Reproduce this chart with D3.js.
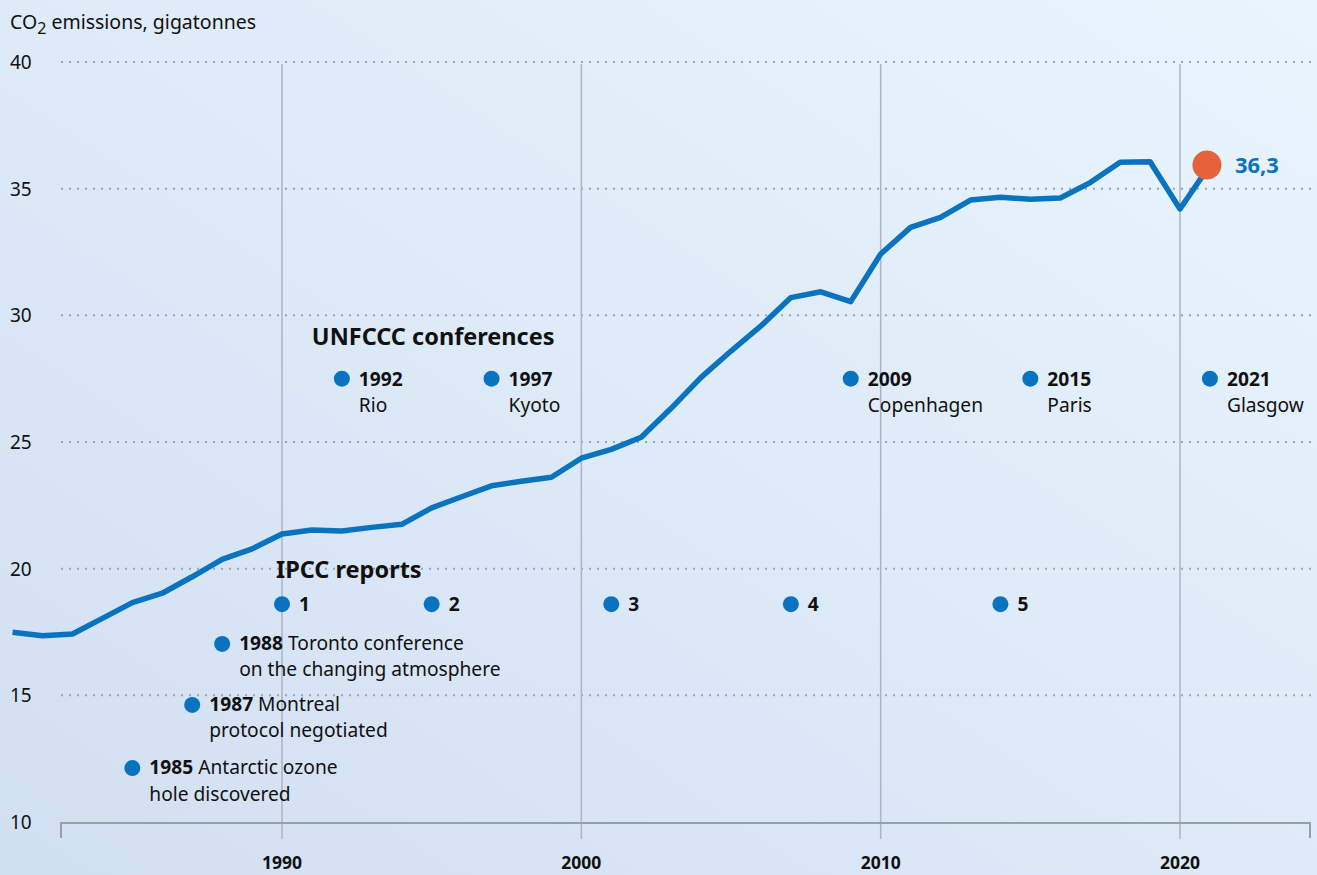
<!DOCTYPE html>
<html>
<head>
  <meta charset="utf-8">
  <title>CO2 emissions</title>
  <script src="https://cdn.jsdelivr.net/npm/d3@7/dist/d3.min.js"></script>
  <style>
    body { margin: 0; }
    svg { display: block; font-family: "Noto Sans", sans-serif; }
    .grid line { stroke: #97a6b4; stroke-width: 2; stroke-dasharray: 2 6; }
    .vgrid line { stroke: #a9b5c2; stroke-width: 1.5; }
    .tick-label { font-size: 19px; fill: #111; }
    .unit { font-size: 19.5px; fill: #111; }
    .year-label { font-size: 17.5px; font-weight: bold; fill: #111; }
    .ev { font-size: 19.2px; fill: #111; }
    .ev-title { font-size: 23.5px; font-weight: bold; fill: #111; }
  </style>
</head>
<body>
<div id="chart"></div>
<script>
  // emissions per year, gigatonnes
  const years = [1981, 1982, 1983, 1984, 1985, 1986, 1987, 1988, 1989, 1990,
    1991, 1992, 1993, 1994, 1995, 1996, 1997, 1998, 1999, 2000,
    2001, 2002, 2003, 2004, 2005, 2006, 2007, 2008, 2009, 2010,
    2011, 2012, 2013, 2014, 2015, 2016, 2017, 2018, 2019, 2020, 2021];
  const emissions = [17.49, 17.35, 17.42, 18.04, 18.66, 19.03, 19.68, 20.37, 20.78, 21.37,
    21.53, 21.49, 21.63, 21.75, 22.40, 22.84, 23.27, 23.45, 23.61, 24.36,
    24.71, 25.19, 26.33, 27.55, 28.59, 29.58, 30.70, 30.93, 30.54, 32.42,
    33.47, 33.87, 34.55, 34.66, 34.58, 34.63, 35.24, 36.04, 36.06, 34.20, 35.93];
  const lastLabel = '36,3';

  const yTicks = [10, 15, 20, 25, 30, 35, 40];
  const xTicks = [1990, 2000, 2010, 2020];

  // UNFCCC conferences
  const confYears = [1992, 1997, 2009, 2015, 2021];
  const confNames = ['Rio', 'Kyoto', 'Copenhagen', 'Paris', 'Glasgow'];
  const confLevel = 27.5;

  // IPCC reports
  const ipccYears = [1990, 1995, 2001, 2007, 2014];
  const ipccNums = ['1', '2', '3', '4', '5'];
  const ipccLevel = 18.6;

  // other milestones
  const otherYears = [1988, 1987, 1985];
  const otherLevels = [17.03, 14.62, 12.13];
  const otherLine1 = ['Toronto conference', 'Montreal', 'Antarctic ozone'];
  const otherLine2 = ['on the changing atmosphere', 'protocol negotiated', 'hole discovered'];

  const width = 1317, height = 875;
  const blue = '#0a73bf';
  const lineGap = 26.5;

  const svg = d3.select('#chart').append('svg')
    .attr('width', width)
    .attr('height', height);

  // background gradient
  const grad = svg.append('defs').append('linearGradient')
    .attr('id', 'bg')
    .attr('x1', '0%').attr('y1', '100%')
    .attr('x2', '100%').attr('y2', '0%');
  grad.append('stop').attr('offset', '0%').attr('stop-color', '#d1dff2');
  grad.append('stop').attr('offset', '100%').attr('stop-color', '#e9f5fd');
  svg.append('rect').attr('width', width).attr('height', height).attr('fill', 'url(#bg)');

  const x = d3.scaleLinear().domain([1990, 2020]).range([282, 1180]);
  const y = d3.scaleLinear().domain([10, 40]).range([822, 62]);

  // y unit label
  const unit = svg.append('text').attr('x', 10).attr('y', 29).attr('class', 'unit');
  unit.append('tspan').text('CO');
  unit.append('tspan').attr('dy', 5).attr('font-size', 16).text('2');
  unit.append('tspan').attr('dy', -5).text(' emissions, gigatonnes');

  // horizontal dotted grid
  svg.append('g').attr('class', 'grid')
    .selectAll('line')
    .data(yTicks.filter(d => d > 10))
    .join('line')
    .attr('x1', 61).attr('x2', 1312)
    .attr('y1', d => y(d)).attr('y2', d => y(d));

  svg.append('g')
    .selectAll('text')
    .data(yTicks)
    .join('text')
    .attr('class', 'tick-label')
    .attr('x', 10)
    .attr('y', d => y(d) + 7)
    .text(d => d);

  // vertical grid lines
  svg.append('g').attr('class', 'vgrid')
    .selectAll('line')
    .data(xTicks)
    .join('line')
    .attr('x1', d => x(d)).attr('x2', d => x(d))
    .attr('y1', y(40) + 2).attr('y2', y(10) + 17);

  // x axis
  const xAxis = svg.append('g').attr('transform', `translate(0,${y(10) + 1})`);
  xAxis.append('path')
    .attr('d', 'M61,15V0H1310V15')
    .attr('fill', 'none')
    .attr('stroke', '#9a9fa6')
    .attr('stroke-width', 2);

  svg.append('g')
    .selectAll('text')
    .data(xTicks)
    .join('text')
    .attr('class', 'year-label')
    .attr('text-anchor', 'middle')
    .attr('x', d => x(d))
    .attr('y', y(10) + 47)
    .text(d => d);

  // event titles
  svg.append('text').attr('class', 'ev-title')
    .attr('x', x(confYears[0]) - 30).attr('y', y(confLevel) - 34)
    .text('UNFCCC conferences');
  svg.append('text').attr('class', 'ev-title')
    .attr('x', x(ipccYears[0]) - 6).attr('y', y(ipccLevel) - 26)
    .text('IPCC reports');

  // UNFCCC markers
  const conf = svg.append('g').selectAll('g')
    .data(confYears)
    .join('g')
    .attr('transform', d => `translate(${x(d)},${y(confLevel)})`);
  conf.append('circle').attr('r', 8).attr('fill', blue);
  const ct = conf.append('text').attr('class', 'ev').attr('y', 7);
  ct.append('tspan').attr('x', 17).attr('font-weight', 'bold').text(d => d);
  ct.append('tspan').attr('x', 17).attr('dy', lineGap).text((d, i) => confNames[i]);

  // IPCC markers
  const ipcc = svg.append('g').selectAll('g')
    .data(ipccYears)
    .join('g')
    .attr('transform', d => `translate(${x(d)},${y(ipccLevel)})`);
  ipcc.append('circle').attr('r', 8).attr('fill', blue);
  ipcc.append('text').attr('class', 'ev').attr('x', 17).attr('y', 7)
    .attr('font-weight', 'bold').text((d, i) => ipccNums[i]);

  // other milestones
  const other = svg.append('g').selectAll('g')
    .data(otherYears)
    .join('g')
    .attr('transform', (d, i) => `translate(${x(d)},${y(otherLevels[i])})`);
  other.append('circle').attr('r', 8).attr('fill', blue);
  const ot = other.append('text').attr('class', 'ev').attr('y', 6);
  ot.append('tspan').attr('x', 17).attr('font-weight', 'bold').text(d => d);
  ot.append('tspan').text((d, i) => ' ' + otherLine1[i]);
  ot.append('tspan').attr('x', 17).attr('dy', lineGap).text((d, i) => otherLine2[i]);

  // emissions line
  const line = d3.line()
    .x((d, i) => x(years[i]))
    .y(d => y(d));
  svg.append('path')
    .datum(emissions)
    .attr('d', line)
    .attr('fill', 'none')
    .attr('stroke', blue)
    .attr('stroke-width', 5.5)
    .attr('stroke-linejoin', 'round');

  const lastYear = years[years.length - 1];
  const lastVal = emissions[emissions.length - 1];
  svg.append('circle')
    .attr('cx', x(lastYear) - 3)
    .attr('cy', y(lastVal))
    .attr('r', 14.5)
    .attr('fill', '#e5623a');
  svg.append('text')
    .attr('x', x(lastYear) + 25)
    .attr('y', y(lastVal) + 8)
    .attr('font-size', 22)
    .attr('font-weight', 'bold')
    .attr('fill', blue)
    .text(lastLabel);
</script>
</body>
</html>
